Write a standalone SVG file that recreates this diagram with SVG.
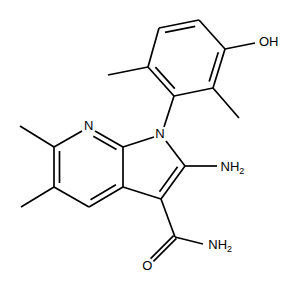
<svg xmlns="http://www.w3.org/2000/svg" width="299" height="291" viewBox="0 0 299 291">
<style>
.b{stroke:#000;stroke-width:1.7;stroke-linecap:butt;fill:none}
.t{font-family:"Liberation Sans",Arial,sans-serif;font-size:13px;fill:#000}
.s{font-size:9px}
</style>
<rect width="299" height="291" fill="#fff"/>
<g id="connectors" class="b">
<!-- phenyl ring -->
<line x1="159" y1="28" x2="199" y2="20"/>
<line x1="165" y1="32.4" x2="195.2" y2="26.4"/>
<line x1="199" y1="20" x2="225" y2="49"/>
<line x1="225" y1="49" x2="213" y2="88"/>
<line x1="218.3" y1="52.2" x2="209.2" y2="81.6"/>
<line x1="213" y1="88" x2="174" y2="96"/>
<line x1="174" y1="96" x2="148" y2="67"/>
<line x1="174.8" y1="88.6" x2="155.4" y2="67.1"/>
<line x1="148" y1="67" x2="159" y2="28"/>
<!-- phenyl substituents -->
<line x1="148" y1="67" x2="108" y2="75"/>
<line x1="213" y1="88" x2="239" y2="118"/>
<line x1="225" y1="49" x2="255" y2="43"/>
<line x1="174" y1="96" x2="164" y2="127"/>
<!-- pyridine ring -->
<line x1="54" y1="147" x2="82" y2="131"/>
<line x1="95" y1="131" x2="123" y2="147"/>
<line x1="93.3" y1="136.3" x2="116.5" y2="149.5"/>
<line x1="123" y1="147" x2="123" y2="187"/>
<line x1="123" y1="187" x2="89" y2="207"/>
<line x1="115.9" y1="184.8" x2="90.5" y2="199.7"/>
<line x1="89" y1="207" x2="54" y2="187"/>
<line x1="54" y1="187" x2="54" y2="147"/>
<line x1="59.5" y1="183" x2="59.5" y2="151"/>
<!-- pyridine methyls -->
<line x1="54" y1="147" x2="20" y2="126"/>
<line x1="54" y1="187" x2="21" y2="207"/>
<!-- pyrrole ring -->
<line x1="123" y1="147" x2="154" y2="137"/>
<line x1="166" y1="141" x2="185" y2="166"/>
<line x1="185" y1="166" x2="161" y2="199"/>
<line x1="177.6" y1="166.8" x2="159.5" y2="191.7"/>
<line x1="161" y1="199" x2="123" y2="187"/>
<!-- amino -->
<line x1="185" y1="166" x2="217" y2="166"/>
<!-- carboxamide -->
<line x1="161" y1="199" x2="175" y2="237"/>
<line x1="175" y1="237" x2="203" y2="244"/>
<line x1="176.4" y1="238.4" x2="153.4" y2="261.4"/>
<line x1="173.6" y1="235.6" x2="150.6" y2="258.6"/>
</g>
<g id="N1"><text class="t" x="160" y="138" text-anchor="middle">N</text></g>
<g id="N7"><text class="t" x="88.7" y="129.8" text-anchor="middle">N</text></g>
<g id="OH"><text class="t" x="259" y="45.8">OH</text></g>
<g id="NH2a"><text class="t" x="220.5" y="170.8">NH<tspan class="s" dy="3.3">2</tspan></text></g>
<g id="NH2b"><text class="t" x="208.3" y="249">NH<tspan class="s" dy="3.3">2</tspan></text></g>
<g id="O"><text class="t" x="147.3" y="269.8" text-anchor="middle">O</text></g>
</svg>
